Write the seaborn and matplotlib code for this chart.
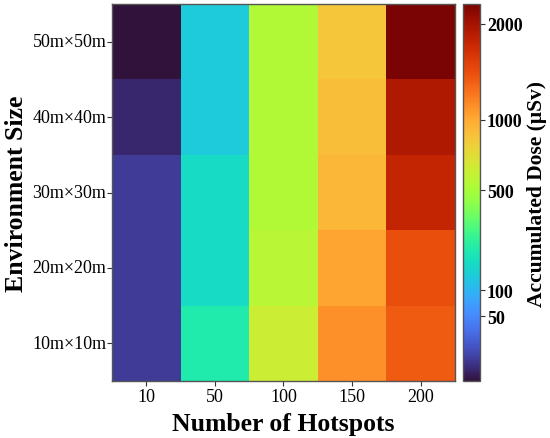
import numpy as np
import pandas as pd
import matplotlib
matplotlib.use('Agg')
import matplotlib.pyplot as plt
import seaborn as sns
from matplotlib.colors import PowerNorm

# environment sizes (top row first) and hotspot counts
env_sizes = ['50m×50m', '40m×40m', '30m×30m', '20m×20m', '10m×10m']
hotspots = ['10', '50', '100', '150', '200']

# accumulated dose (uSv), one list per environment size
dose_50 = [5, 138, 530, 852, 2250]
dose_40 = [6, 138, 530, 897, 1916]
dose_30 = [9, 171, 530, 927, 1781]
dose_20 = [9, 171, 564, 1021, 1449]
dose_10 = [9, 223, 624, 1120, 1372]

cbar_ticks = [50, 100, 500, 1000, 2000]

plt.rcParams['font.family'] = ['Liberation Serif', 'DejaVu Serif']

df = pd.DataFrame([dose_50, dose_40, dose_30, dose_20, dose_10],
                  index=env_sizes, columns=hotspots)

fig = plt.figure(figsize=(5.5, 4.39), dpi=100)
ax = fig.add_axes([0.2036, 0.1298, 0.6234, 0.8588])
cax = fig.add_axes([0.8418, 0.1298, 0.031, 0.8588])

norm = PowerNorm(gamma=0.45, vmin=df.values.min(), vmax=df.values.max())
sns.heatmap(df, ax=ax, cbar_ax=cax, cmap='turbo', norm=norm,
            cbar_kws={'ticks': cbar_ticks})

# frame around the heatmap
for s in ax.spines.values():
    s.set_visible(True)
    s.set_color('#555555')
    s.set_linewidth(1.0)

ax.tick_params(axis='x', labelsize=13, length=3.5, width=0.8, color='#333333', pad=1.5)
ax.tick_params(axis='y', labelsize=13, length=3.5, width=0.8, color='#333333', pad=0.5)
ax.set_yticklabels(env_sizes, rotation=0)
ax.set_xticklabels(hotspots, rotation=0)
ax.set_xlabel('Number of Hotspots', fontsize=18.5, fontweight='bold', labelpad=5)
ax.set_ylabel('Environment Size', fontsize=18.5, fontweight='bold', labelpad=3)

cbar = ax.collections[0].colorbar
cbar.outline.set_visible(True)
cbar.outline.set_linewidth(1.0)
cbar.outline.set_edgecolor('#555555')
cbar.set_ticks(cbar_ticks)
cbar.set_ticklabels([str(t) for t in cbar_ticks])
cax.tick_params(labelsize=13, length=3.5, width=0.8, color='#333333', pad=1.5)
for lab in cax.get_yticklabels():
    lab.set_fontweight('bold')
cbar.set_label('Accumulated Dose (μSv)', fontsize=15.5, fontweight='bold', labelpad=3)

fig.savefig('out.png', dpi=100)
